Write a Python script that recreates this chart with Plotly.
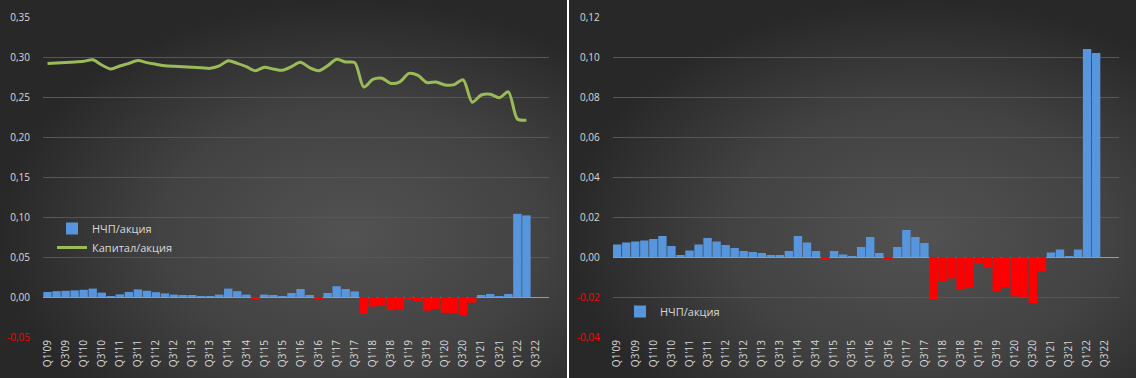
import base64
import plotly.graph_objects as go

# ---------------- data ----------------
categories = [
    "Q1'09", "Q2'09", "Q3'09", "Q4'09", "Q1'10", "Q2'10", "Q3'10", "Q4'10",
    "Q1'11", "Q2'11", "Q3'11", "Q4'11", "Q1'12", "Q2'12", "Q3'12", "Q4'12",
    "Q1'13", "Q2'13", "Q3'13", "Q4'13", "Q1'14", "Q2'14", "Q3'14", "Q4'14",
    "Q1'15", "Q2'15", "Q3'15", "Q4'15", "Q1'16", "Q2'16", "Q3'16", "Q4'16",
    "Q1'17", "Q2'17", "Q3'17", "Q4'17", "Q1'18", "Q2'18", "Q3'18", "Q4'18",
    "Q1'19", "Q2'19", "Q3'19", "Q4'19", "Q1'20", "Q2'20", "Q3'20", "Q4'20",
    "Q1'21", "Q2'21", "Q3'21", "Q4'21", "Q1'22", "Q2'22", "Q3'22", "Q4'22",
]

nchp_per_share = [
    0.0063, 0.0073, 0.0078, 0.0083, 0.0090, 0.0105, 0.0055, 0.0007,
    0.0033, 0.0063, 0.0095, 0.0078, 0.0060, 0.0045, 0.0030, 0.0025,
    0.0020, 0.0010, 0.0007, 0.0030, 0.0105, 0.0073, 0.0030, -0.0013,
    0.0030, 0.0013, 0.0002, 0.0050, 0.0100, 0.0020, -0.0013, 0.0050,
    0.0135, 0.0100, 0.0070, -0.0210, -0.0120, -0.0107, -0.0165, -0.0150,
    -0.0030, -0.0055, -0.0170, -0.0150, -0.0197, -0.0200, -0.0230, -0.0070,
    0.0023, 0.0038, 0.0002, 0.0038, 0.1040, 0.1020, None, None,
]

capital_per_share = [
    0.2920, 0.2925, 0.2930, 0.2937, 0.2947, 0.2965, 0.2900, 0.2850,
    0.2888, 0.2920, 0.2955, 0.2930, 0.2910, 0.2890, 0.2883, 0.2879,
    0.2871, 0.2867, 0.2858, 0.2888, 0.2954, 0.2920, 0.2879, 0.2829,
    0.2871, 0.2850, 0.2834, 0.2880, 0.2933, 0.2867, 0.2829, 0.2891,
    0.2971, 0.2937, 0.2930, 0.2625, 0.2720, 0.2735, 0.2670, 0.2690,
    0.2795, 0.2770, 0.2680, 0.2688, 0.2650, 0.2655, 0.2715, 0.2435,
    0.2525, 0.2535, 0.2490, 0.2565, 0.2225, 0.2210, None, None,
]

left_ticks = [-0.05, 0.00, 0.05, 0.10, 0.15, 0.20, 0.25, 0.30, 0.35]
right_ticks = [-0.04, -0.02, 0.00, 0.02, 0.04, 0.06, 0.08, 0.10, 0.12]

series_names = ["НЧП/акция", "Капитал/акция"]

# ---------------- style ----------------
W, H = 1136, 378
BLUE = "#5796DD"
RED = "#FF0000"
GREEN = "#9BBB59"
TXT = "#D9D9D9"
GRID = "#575757"
FONT = "Open Sans, Noto Sans, sans-serif"


def fmt(v):
    s = f"{v:.2f}".replace(".", ",")
    if v < 0:
        return f"<span style='color:{RED}'>{s}</span>"
    return s


bar_colors = [BLUE if (v is None or v >= 0) else RED for v in nchp_per_share]


def px_x(p):
    return p / W


def px_y(p):
    return 1 - p / H


def gradient_svg(w, h):
    svg = f"""<svg xmlns='http://www.w3.org/2000/svg' width='{w}' height='{h}' viewBox='0 0 {w} {h}'>
<defs><radialGradient id='g' cx='0.62' cy='0.62' r='0.62' gradientUnits='objectBoundingBox'>
<stop offset='0' stop-color='#525252'/>
<stop offset='0.55' stop-color='#424242'/>
<stop offset='1' stop-color='#282828'/>
</radialGradient></defs>
<rect width='{w}' height='{h}' fill='url(#g)'/></svg>"""
    return "data:image/svg+xml;base64," + base64.b64encode(svg.encode()).decode()


fig = go.Figure()

fig.add_trace(go.Bar(
    x=categories, y=nchp_per_share, name=series_names[0],
    marker=dict(color=bar_colors, line=dict(width=0)),
    xaxis="x", yaxis="y", legend="legend",
))
fig.add_trace(go.Scatter(
    x=categories, y=capital_per_share, name=series_names[1], mode="lines",
    line=dict(color=GREEN, width=3, shape="spline", smoothing=0.8),
    xaxis="x", yaxis="y", legend="legend",
))
fig.add_trace(go.Bar(
    x=categories, y=nchp_per_share, name=series_names[0],
    marker=dict(color=bar_colors, line=dict(width=0)),
    xaxis="x2", yaxis="y2", legend="legend2",
))

xaxis_common = dict(
    type="category", categoryorder="array", categoryarray=categories,
    tickmode="array", tickvals=categories[::2], tickangle=-90,
    tickfont=dict(size=10, color=TXT, family=FONT),
    showgrid=False, showline=False, zeroline=False, ticks="",
    range=[-0.5, len(categories) - 0.5], fixedrange=True, automargin=False,
)
yaxis_common = dict(
    showgrid=True, gridcolor=GRID, gridwidth=1,
    zeroline=True, zerolinecolor="#9A9A9A", zerolinewidth=1,
    showline=False, ticks="", tickfont=dict(size=10, color=TXT, family=FONT),
    ticklabelstandoff=12, fixedrange=True, automargin=False,
)

ydom = [px_y(337), px_y(17)]

fig.update_layout(
    width=W, height=H,
    margin=dict(l=0, r=0, t=0, b=0, autoexpand=False),
    paper_bgcolor="#2B2B2B", plot_bgcolor="rgba(0,0,0,0)",
    font=dict(family=FONT, color=TXT, size=11),
    bargap=0.07,
    showlegend=True,
    xaxis=dict(domain=[px_x(43), px_x(549)], anchor="y", **xaxis_common),
    yaxis=dict(domain=ydom, anchor="x", range=[-0.05, 0.35],
               tickmode="array", tickvals=left_ticks,
               ticktext=[fmt(v) for v in left_ticks], **yaxis_common),
    xaxis2=dict(domain=[px_x(612.7), px_x(1118.7)], anchor="y2", **xaxis_common),
    yaxis2=dict(domain=ydom, anchor="x2", range=[-0.04, 0.12],
                tickmode="array", tickvals=right_ticks,
                ticktext=[fmt(v) for v in right_ticks], **yaxis_common),
    legend=dict(x=px_x(52), y=px_y(214), xanchor="left", yanchor="top",
                bgcolor="rgba(0,0,0,0)", font=dict(size=11, color=TXT, family=FONT),
                itemwidth=30, tracegroupgap=0, traceorder="normal"),
    legend2=dict(x=px_x(620), y=px_y(297), xanchor="left", yanchor="top",
                 bgcolor="rgba(0,0,0,0)", font=dict(size=11, color=TXT, family=FONT),
                 itemwidth=30),
    images=[
        dict(source=gradient_svg(567, H), xref="paper", yref="paper",
             x=0, y=1, sizex=567 / W, sizey=1, sizing="stretch",
             xanchor="left", yanchor="top", layer="below"),
        dict(source=gradient_svg(W - 569, H), xref="paper", yref="paper",
             x=569 / W, y=1, sizex=(W - 569) / W, sizey=1, sizing="stretch",
             xanchor="left", yanchor="top", layer="below"),
    ],
    shapes=[
        dict(type="line", xref="paper", yref="paper",
             x0=568 / W, x1=568 / W, y0=0, y1=1,
             line=dict(color="#FFFFFF", width=2)),
    ],
)

fig.write_html(
    "out.html",
    config={"displayModeBar": False},
    post_script="document.body.style.margin='0';document.body.style.padding='0';"
                "document.body.style.overflow='hidden';",
)
